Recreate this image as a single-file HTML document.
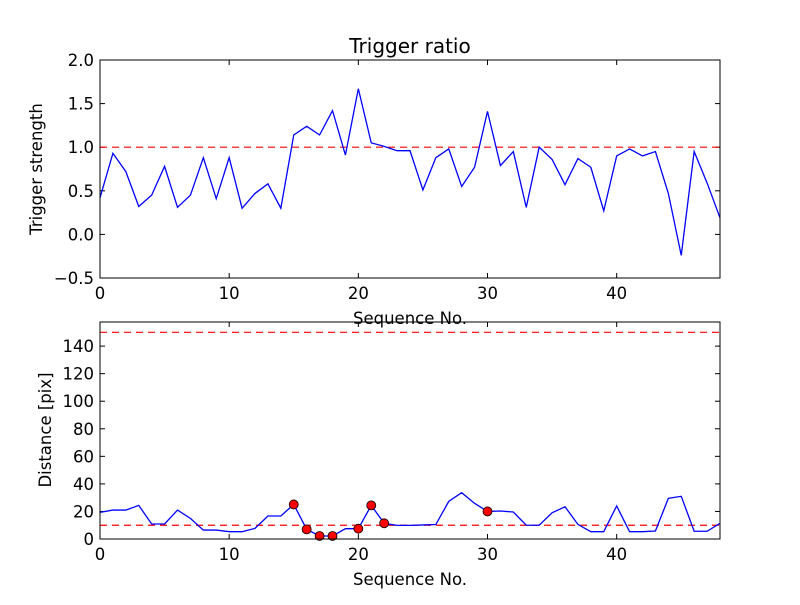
<!DOCTYPE html>
<html><head><meta charset="utf-8"><style>
html,body{margin:0;padding:0;background:#fff}
svg text{font-family:"DejaVu Sans","Liberation Sans",sans-serif;fill:#000}
</style></head><body>
<svg id="c" width="800" height="600" xmlns="http://www.w3.org/2000/svg"></svg>
<script>
const ratio=[0.42,0.93,0.72,0.32,0.45,0.78,0.31,0.45,0.88,0.41,0.88,0.30,0.47,0.58,0.30,1.14,1.24,1.14,1.42,0.91,1.67,1.05,1.01,0.96,0.96,0.51,0.88,0.98,0.55,0.77,1.41,0.79,0.95,0.31,1.0,0.86,0.57,0.87,0.77,0.27,0.90,0.98,0.90,0.95,0.47,-0.24,0.95,0.59,0.19];
const dist=[19.3,21,21,24.4,10.9,10.9,21,15,6.5,6.5,5.3,5.3,7.7,16.7,16.7,25.1,7,2.2,2.2,7.5,7.5,24.4,11.4,9.9,9.9,10.2,10.5,27.3,33.6,25.9,20,20.3,19.6,10,10,19,23.4,10.6,5.3,5.3,24,5.3,5.3,5.8,29.5,31,5.6,5.6,11.4];
const triggered=[15,16,17,18,20,21,22,30];
const xTicks=[0,10,20,30,40];
const topYTicks=[-0.5,0.0,0.5,1.0,1.5,2.0];
const botYTicks=[0,20,40,60,80,100,120,140];
const ratioThreshold=1.0, distLow=10, distHigh=150;

const svg=document.getElementById('c');const NS='http://www.w3.org/2000/svg';
function mk(t,a,p){const e=document.createElementNS(NS,t);for(const k in a)e.setAttribute(k,a[k]);(p||svg).appendChild(e);return e;}
function axes(L,R,T,B,x0,x1,y0,y1,yt,yfmt,name){
  const X=v=>L+(v-x0)/(x1-x0)*(R-L), Y=v=>B-(v-y0)/(y1-y0)*(B-T);
  const g=mk('g',{});
  
  
  xTicks.forEach(t=>{const x=X(t);mk('line',{x1:x,x2:x,y1:B,y2:B-5,stroke:'#000'},g);mk('line',{x1:x,x2:x,y1:T,y2:T+5,stroke:'#000'},g);
    const tx=mk('text',{x:x,y:B+21,'text-anchor':'middle','font-size':16.5},g);tx.textContent=t;
    
    });
  yt.forEach(t=>{const y=Y(t);mk('line',{x1:L,x2:L+5,y1:y,y2:y,stroke:'#000'},g);mk('line',{x1:R,x2:R-5,y1:y,y2:y,stroke:'#000'},g);
    const tx=mk('text',{x:L-6,y:y+6,'text-anchor':'end','font-size':16.5},g);tx.textContent=yfmt(t);
    
    });
  return {X,Y,g};
}
const A=axes(100,720,60,278,0,48,-0.5,2.0,topYTicks,t=>t.toFixed(1).replace('-','\u2212'),'trigger-ratio-axes');
const hl=mk('line',{x1:100,x2:720,y1:A.Y(ratioThreshold),y2:A.Y(ratioThreshold),stroke:'#f00','stroke-dasharray':'7,5','stroke-width':1.2});


const p1=mk('polyline',{points:ratio.map((v,i)=>A.X(i)+','+A.Y(v)).join(' '),fill:'none',stroke:'#00f','stroke-width':1.3});


mk('rect',{x:100,y:60,width:620,height:218,fill:'none',stroke:'#000'});
const B=axes(100,720,322,539,0,48,0,157.5,botYTicks,t=>t,'distance-axes');
[distLow,distHigh].forEach(v=>{const l=mk('line',{x1:100,x2:720,y1:B.Y(v),y2:B.Y(v),stroke:'#f00','stroke-dasharray':'7,5','stroke-width':1.2});
  
  });
const p2=mk('polyline',{points:dist.map((v,i)=>B.X(i)+','+B.Y(v)).join(' '),fill:'none',stroke:'#00f','stroke-width':1.3});


triggered.forEach(i=>{const c=mk('circle',{cx:B.X(i),cy:B.Y(dist[i]),r:4.5,fill:'#f00',stroke:'#000','stroke-width':0.8});
  
  });
mk('rect',{x:100,y:322,width:620,height:217,fill:'none',stroke:'#000'});
function txt(s,a,n){const t=mk('text',a);t.textContent=s;}
txt('Trigger ratio',{x:410,y:53,'text-anchor':'middle','font-size':20},'chart-title');
txt('Trigger strength',{x:42,y:169,'text-anchor':'middle','font-size':16.5,transform:'rotate(-90 42 169)'},'top-y-axis-title');
txt('Sequence No.',{x:410,y:324,'text-anchor':'middle','font-size':16.5},'top-x-axis-title');
txt('Distance [pix]',{x:51,y:430,'text-anchor':'middle','font-size':16.5,transform:'rotate(-90 51 430)'},'bottom-y-axis-title');
txt('Sequence No.',{x:410,y:585,'text-anchor':'middle','font-size':16.5},'bottom-x-axis-title');
</script>
</body></html>
